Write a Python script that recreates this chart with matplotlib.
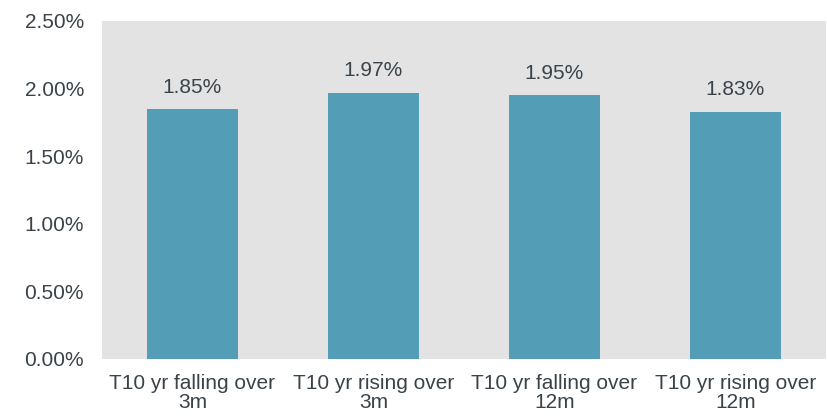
import matplotlib.pyplot as plt
import numpy as np

categories = ["T10 yr falling over\n3m", "T10 yr rising over\n3m",
              "T10 yr falling over\n12m", "T10 yr rising over\n12m"]
values = [1.85, 1.97, 1.95, 1.83]
labels = ["1.85%", "1.97%", "1.95%", "1.83%"]
yticks = [0.0, 0.5, 1.0, 1.5, 2.0, 2.5]

plt.rcParams['font.family'] = ['Liberation Sans', 'DejaVu Sans']
text_col = "#3a434a"
fs = 15

fig = plt.figure(figsize=(8.28, 4.17), dpi=100)
ax = fig.add_axes([102/828, 1 - 359/417, (826-102)/828, (359-21)/417])
ax.set_facecolor("#e3e3e3")

x = np.arange(len(values))
ax.bar(x, values, width=0.5, color="#539db6", zorder=2)
for xi, v, lab in zip(x, values, labels):
    ax.text(xi, v + 0.09, lab, ha="center", va="bottom", fontsize=fs, color=text_col)

ax.set_xlim(-0.5, len(values) - 0.5)
ax.set_ylim(0, 2.5)
ax.set_yticks(yticks)
ax.set_yticklabels(["%.2f%%" % t for t in yticks])
ax.set_xticks(x)
ax.set_xticklabels(categories, linespacing=1.0)
ax.tick_params(axis="both", length=0, labelsize=fs, colors=text_col)
ax.tick_params(axis="y", pad=13)
ax.tick_params(axis="x", pad=11)
for s in ax.spines.values():
    s.set_visible(False)

plt.savefig("out.png", dpi=100)
plt.close()
